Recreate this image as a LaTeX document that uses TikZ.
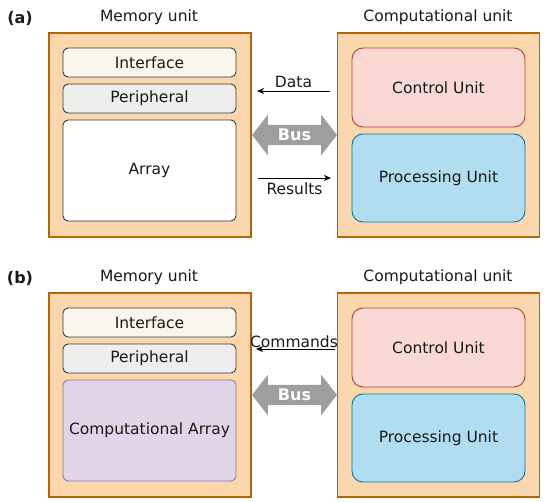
\documentclass[tikz,border=0pt]{standalone}
\usepackage{fontspec}
\setmainfont{DejaVu Sans}
\usetikzlibrary{arrows.meta,shapes.arrows}

\definecolor{unitfill}{HTML}{FAD7AC}
\definecolor{unitdraw}{HTML}{B46504}
\definecolor{ifacefill}{HTML}{F9F7ED}
\definecolor{perifill}{HTML}{EEEEEE}
\definecolor{boxdraw}{HTML}{36393D}
\definecolor{ctrlfill}{HTML}{FAD9D5}
\definecolor{ctrldraw}{HTML}{AE4132}
\definecolor{procfill}{HTML}{B1DDF0}
\definecolor{procdraw}{HTML}{10739E}
\definecolor{carrfill}{HTML}{E1D5E7}
\definecolor{carrdraw}{HTML}{9673A6}
\definecolor{busgray}{HTML}{9E9E9E}

\begin{document}
\begin{tikzpicture}[x=1pt,y=-1pt,
  every node/.style={font=\fontsize{15.5}{18}\selectfont, text=black!90},
  unitbox/.style={draw=unitdraw, fill=unitfill, line width=1.5pt,
    minimum width=202pt, minimum height=204pt},
  part/.style={draw=boxdraw, line width=0.9pt, rounded corners=5pt,
    minimum width=173pt},
  bigpart/.style={line width=0.9pt, rounded corners=11pt, minimum width=173pt},
  panel/.style={font=\fontsize{16}{18}\selectfont\bfseries},
  busarrow/.style={double arrow, fill=busgray, text=white,
    font=\fontsize{16}{18}\selectfont\bfseries,
    text height=12pt, text depth=0pt, inner ysep=4pt,
    minimum width=40pt, minimum height=85pt,
    double arrow head extend=10pt, double arrow tip angle=104},
  msg/.style={-{Stealth[length=7pt,width=6pt,inset=2pt]}, line width=0.9pt}]

  \useasboundingbox (0,0) rectangle (550,502);

  % (a)
  \node[panel] (la) at (20,18) {(a)};
  \node (mtitlea) at (149,17) {Memory unit};
  \node (ctitlea) at (438,17) {Computational unit};
  \node[unitbox] (mema) at (150,135) {};
  \node[unitbox] (compa) at (438.5,135) {};
  \node[part, fill=ifacefill, minimum height=29pt] (ifacea) at (149.5,62.5) {Interface};
  \node[part, fill=perifill, minimum height=29pt] (peria) at (149.5,98.5) {Peripheral};
  \node[part, fill=white, minimum height=101pt] (arraya) at (149.5,170.5) {Array};
  \node[bigpart, draw=ctrldraw, fill=ctrlfill, minimum height=79pt] (ctrla) at (438.5,87.5) {Control Unit};
  \node[bigpart, draw=procdraw, fill=procfill, minimum height=88pt] (proca) at (438.5,178) {Processing Unit};
  \node[busarrow] (busa) at (294.5,135) {Bus};
  \coordinate (datas) at (330,91);
  \coordinate (datae) at (257,91);
  \draw[msg] (datas) -- (datae) node[midway, above=-1pt] (datal) {Data};
  \coordinate (ress) at (258,178);
  \coordinate (rese) at (331,178);
  \draw[msg] (ress) -- (rese) node[midway, below=1pt] (resl) {Results};

  % (b)
  \node[panel] (lb) at (20,278) {(b)};
  \node (mtitleb) at (149,277) {Memory unit};
  \node (ctitleb) at (438,277) {Computational unit};
  \node[unitbox] (memb) at (150,395) {};
  \node[unitbox] (compb) at (438.5,395) {};
  \node[part, fill=ifacefill, minimum height=29pt] (ifaceb) at (149.5,322.5) {Interface};
  \node[part, fill=perifill, minimum height=29pt] (perib) at (149.5,358.5) {Peripheral};
  \node[part, draw=carrdraw, fill=carrfill, minimum height=101pt] (arrayb) at (149.5,430.5) {Computational Array};
  \node[bigpart, draw=ctrldraw, fill=ctrlfill, minimum height=79pt] (ctrlb) at (438.5,347.5) {Control Unit};
  \node[bigpart, draw=procdraw, fill=procfill, minimum height=88pt] (procb) at (438.5,438) {Processing Unit};
  \node[busarrow] (busb) at (294.5,395) {Bus};
  \coordinate (cmds) at (335,349);
  \coordinate (cmde) at (256,349);
  \draw[msg] (cmds) -- (cmde);
  \node (cmdl) at (294,342) {Commands};
\end{tikzpicture}
\end{document}
